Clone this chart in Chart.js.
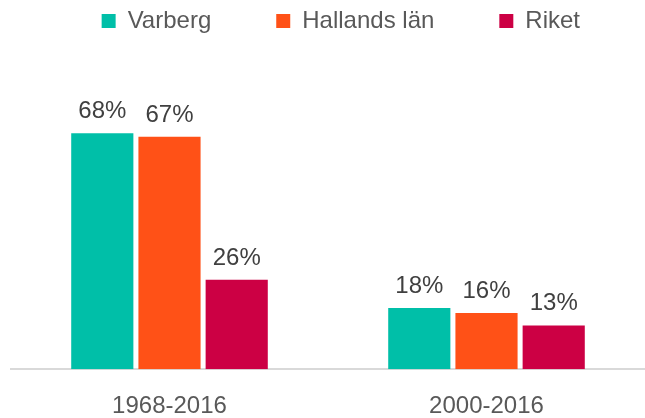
<!DOCTYPE html>
<html>
<head>
<meta charset="utf-8">
<script src="https://cdn.jsdelivr.net/npm/chart.js@4.4.1/dist/chart.umd.min.js"></script>
<style>
  body { margin: 0; background: #fff; }
  #wrap { width: 645px; height: 418px; position: relative; }
</style>
</head>
<body>
<div id="wrap"><canvas id="myChart"></canvas></div>
<script>
const perioder = ["1968-2016", "2000-2016"];
const varberg = [68, 17.6];
const hallandsLan = [67, 16.2];
const riket = [25.8, 12.6];

// draws the percent labels above each bar
const barLabels = {
  id: "barLabels",
  afterDatasetsDraw(chart) {
    const ctx = chart.ctx;
    ctx.save();
    ctx.font = "24px 'Liberation Sans', Arial, sans-serif";
    ctx.fillStyle = "#404040";
    ctx.textAlign = "center";
    ctx.textBaseline = "alphabetic";
    chart.data.datasets.forEach((ds, i) => {
      chart.getDatasetMeta(i).data.forEach((bar, j) => {
        ctx.fillText(Math.round(ds.data[j]) + "%", bar.x, bar.y - 15);
      });
    });
    ctx.restore();
  },
};

window.onload = () => {
  const data = {
    labels: perioder,
    datasets: [
      { label: "Varberg", backgroundColor: "#00BFA8", data: varberg },
      { label: "Hallands län", backgroundColor: "#FF5117", data: hallandsLan },
      { label: "Riket", backgroundColor: "#CC0044", data: riket },
    ],
  };

  const config = {
    type: "bar",
    data: data,
    plugins: [barLabels],
    options: {
      responsive: true,
      maintainAspectRatio: false,
      animation: false,
      layout: { padding: { top: -56, left: 11, right: 0, bottom: -25 } },
      datasets: {
        bar: { categoryPercentage: 0.636, barPercentage: 0.925 },
      },
      plugins: {
        tooltip: { enabled: false },
        legend: {
          position: "top",
          align: "end",
          labels: {
            boxWidth: 14,
            boxHeight: 14,
            padding: 65,
            color: "#595959",
            font: { family: "'Liberation Sans', Arial, sans-serif", size: 24 },
          },
        },
      },
      scales: {
        x: {
          grid: { display: false, drawTicks: false },
          border: { display: true, color: "#D9D9D9", width: 2 },
          ticks: {
            color: "#595959",
            padding: 22.5,
            font: { family: "'Liberation Sans', Arial, sans-serif", size: 24 },
          },
        },
        y: {
          display: false,
          min: 0,
          max: 94,
        },
      },
    },
  };
  new Chart(document.getElementById("myChart"), config);
};
</script>
</body>
</html>
